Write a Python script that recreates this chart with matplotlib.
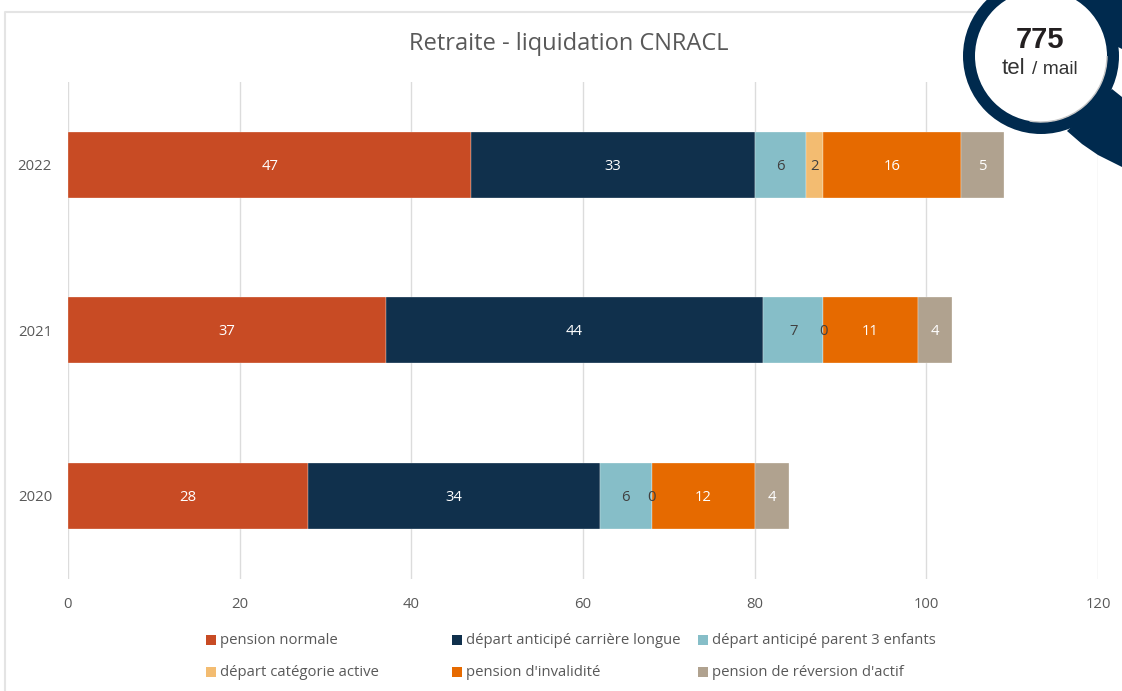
import matplotlib
matplotlib.use('Agg')
import matplotlib.pyplot as plt
from matplotlib.patches import Arc, Circle, Polygon, Rectangle

plt.rcParams['font.family'] = ['Open Sans', 'DejaVu Sans']

# data
years = ['2020', '2021', '2022']
pension_normale = [28, 37, 47]
carriere_longue = [34, 44, 33]
parent_3_enfants = [6, 7, 6]
categorie_active = [0, 0, 2]
invalidite = [12, 11, 16]
reversion = [4, 4, 5]

series_names = ['pension normale', 'départ anticipé carrière longue', 'départ anticipé parent 3 enfants',
                'départ catégorie active', "pension d'invalidité", "pension de réversion d'actif"]
series_values = [pension_normale, carriere_longue, parent_3_enfants,
                 categorie_active, invalidite, reversion]
colors = ['#C84B24', '#10304C', '#86BEC8', '#F3BC71', '#E66A00', '#B0A28F']
label_colors = ['white', 'white', '#404040', '#404040', 'white', 'white']
xticks = [0, 20, 40, 60, 80, 100, 120]

W, H = 1122, 691
GREY = '#595959'
FS = 10.75

fig = plt.figure(figsize=(W / 100, H / 100), dpi=100)

# overlay in pixel coordinates for the frame, the legend and the callout
bg = fig.add_axes([0, 0, 1, 1], zorder=0)
bg.set_xlim(0, W)
bg.set_ylim(H, 0)
bg.axis('off')
bg.plot([5, 5, 1000], [H, 11.5, 11.5], color='#E4E4E4', lw=1.5)

# main chart
ax = fig.add_axes([68 / W, 1 - 578.5 / H, (1098 - 68) / W, (578.5 - 82) / H], zorder=1)
ax.patch.set_alpha(0)
left = [0, 0, 0]
for name, vals, c, lc in zip(series_names, series_values, colors, label_colors):
    bars = ax.barh(years, vals, height=0.4, left=left, color=c, edgecolor='white', linewidth=0.2, zorder=3)
    labels = ax.bar_label(bars, labels=[str(v) for v in vals], label_type='center', color=lc, fontsize=FS, zorder=4)
    for t in labels:
        t.xyann = (0, -1.2)  # sit a little lower in the bar
    left = [a + b for a, b in zip(left, vals)]

ax.set_xlim(0, 120)
ax.set_ylim(-0.5, 2.5)
ax.set_xticks(xticks)
ax.grid(axis='x', color='#DCDCDC', lw=1.0, zorder=0)
ax.set_axisbelow(True)
ax.tick_params(length=0, labelsize=FS, labelcolor=GREY, pad=13)
ax.tick_params(axis='y', pad=11.5)
for s in ax.spines.values():
    s.set_visible(False)

fig.text(569 / W, 1 - 44 / H, 'Retraite - liquidation CNRACL', fontsize=17, color=GREY, ha='center', va='center')

# legend, two rows of uneven columns
leg_x = [206, 452, 698, 206, 452, 698]
leg_y = [640, 640, 640, 672, 672, 672]
fg = fig.add_axes([0, 0, 1, 1], zorder=2)
fg.set_xlim(0, W)
fg.set_ylim(H, 0)
fg.axis('off')
for x, y, c, name in zip(leg_x, leg_y, colors, series_names):
    fg.add_patch(Rectangle((x, y - 5), 10, 10, color=c, lw=0))
    fg.text(x + 14, y + 1, name, fontsize=FS, color=GREY, va='center', ha='left')

# magnifier callout, top right
NAVY = '#002A4E'
fg.add_patch(Polygon([(1067, 131), (1082, 144), (1098, 155), (1110, 161), (1122, 167), (1122, 97), (1112, 89)],
                     color=NAVY, lw=0))
fg.add_patch(Polygon([(1077, 0), (1122, 0), (1122, 49), (1118, 47)], color=NAVY, lw=0))
fg.add_patch(Circle((1041, 56), 78, color=NAVY, lw=0))
fg.add_patch(Circle((1041, 56), 66, facecolor='white', lw=0))
fg.add_patch(Arc((1041, 56), 132, 132, theta1=0, theta2=100, color='#C8C8C8', lw=1.0))
fg.text(1040, 40, '775', family='Liberation Sans', fontsize=21, fontweight='bold', color='#231F20', ha='center', va='center')
fg.text(1002, 68, 'tel', family='Liberation Sans', fontsize=16, color='#333333', ha='left', va='center')
fg.text(1032, 69, '/ mail', family='Liberation Sans', fontsize=13.8, color='#333333', ha='left', va='center')

fig.savefig('out.png', dpi=100)
